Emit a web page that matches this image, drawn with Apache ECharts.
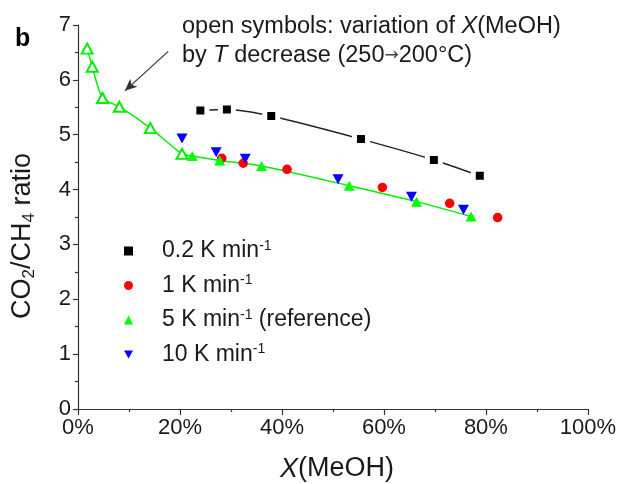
<!DOCTYPE html>
<html>
<head>
<meta charset="utf-8">
<script src="https://cdn.jsdelivr.net/npm/echarts@6/dist/echarts.min.js"></script>
<style>
  html, body { margin: 0; padding: 0; background: #fff; }
  #chart { width: 619px; height: 484px; }
</style>
</head>
<body>
<div id="chart"></div>
<script>
// Methanol conversion X(MeOH) in %, and the CO2/CH4 ratio measured at each heating rate
const rate02X = [24.0, 29.2, 37.9, 55.5, 69.8, 78.8];
const rate02Y = [5.44, 5.46, 5.34, 4.92, 4.54, 4.25];
const rate1X  = [28.2, 32.4, 41.0, 59.7, 72.9, 82.3];
const rate1Y  = [4.57, 4.48, 4.37, 4.04, 3.75, 3.49];
const rate5X  = [22.4, 27.8, 36.0, 53.2, 66.4, 77.1];
const rate5Y  = [4.61, 4.53, 4.43, 4.07, 3.78, 3.51];
const rate10X = [20.4, 27.1, 32.8, 51.0, 65.4, 75.6];
const rate10Y = [4.93, 4.68, 4.56, 4.19, 3.87, 3.63];
// open symbols: temperature lowered from 250 to 200 °C
const coolX = [1.8, 2.8, 4.8, 8.1, 14.2, 20.4];
const coolY = [6.57, 6.24, 5.67, 5.51, 5.12, 4.65];

// legend entries
const rates = ['0.2', '1', '5', '10'];
const notes = ['', '', ' (reference)', ''];

// axis ticks
const xTickStep = 20, xMin = 0, xMax = 100;
const yTickStep = 1, yMin = 0, yMax = 7;

const FONT = "'Liberation Sans', Arial, Helvetica, sans-serif";
const INK = '#1a1a1a';
const GREEN = '#00ee00';

const pairs = (xs, ys) => xs.map((x, i) => [x, ys[i]]);
const names = rates.map((r, i) => r + ' K min-1' + notes[i]);
const legendText = {};
names.forEach((n, i) => {
  legendText[n] = '{gap| }{t|' + rates[i] + ' K min}{sup|-1}' + (notes[i] ? '{t|' + notes[i] + '}' : '');
});

const downTri = 'path://M0,0L10,0L5,9Z';

const chart = echarts.init(document.getElementById('chart'), null, { renderer: 'canvas' });

chart.setOption({
  animation: false,
  backgroundColor: '#fff',
  grid: { left: 78, right: 30, top: 25, bottom: 75, containLabel: false },
  xAxis: {
    type: 'value', min: xMin, max: xMax, interval: xTickStep,
    axisLine: { show: true, onZero: false, lineStyle: { color: '#333', width: 1.2 } },
    axisTick: { show: true, inside: false, length: 6, lineStyle: { color: '#333', width: 1.2 } },
    minorTick: { show: true, splitNumber: 2, length: 3, lineStyle: { color: '#333', width: 1.2 } },
    splitLine: { show: false },
    axisLabel: { fontSize: 22, fontFamily: FONT, color: INK, margin: 8, formatter: '{value}%' }
  },
  yAxis: {
    type: 'value', min: yMin, max: yMax, interval: yTickStep,
    axisLine: { show: true, onZero: false, lineStyle: { color: '#333', width: 1.2 } },
    axisTick: { show: true, inside: false, length: 5, lineStyle: { color: '#333', width: 1.2 } },
    minorTick: { show: true, splitNumber: 2, length: 3, lineStyle: { color: '#333', width: 1.2 } },
    splitLine: { show: false },
    axisLabel: { fontSize: 22, fontFamily: FONT, color: INK, margin: 7 }
  },
  legend: {
    orient: 'vertical',
    left: 124, top: 239,
    padding: 0,
    itemWidth: 9, itemHeight: 9,
    itemGap: 10.5,
    selectedMode: false,
    data: [
      { name: names[0], icon: 'rect', itemStyle: { color: '#000', borderWidth: 0 } },
      { name: names[1], icon: 'circle' },
      { name: names[2], icon: 'triangle' },
      { name: names[3], icon: downTri }
    ],
    formatter: name => legendText[name],
    textStyle: {
      fontSize: 23, fontFamily: FONT, color: INK, lineHeight: 24,
      rich: {
        gap: { width: 24, fontSize: 23, lineHeight: 24 },
        t: { fontSize: 23, fontFamily: FONT, color: INK, lineHeight: 24 },
        sup: { fontSize: 14, fontFamily: FONT, color: INK, lineHeight: 14, verticalAlign: 'top' }
      }
    }
  },
  series: [
    {
      name: 'trend 0.2', type: 'line', smooth: 0.25, showSymbol: false, silent: true,
      data: pairs(rate02X, rate02Y),
      lineStyle: { color: '#222', width: 1.5 }, z: 1
    },
    {
      name: 'trend 5', type: 'line', smooth: 0.25, showSymbol: false, silent: true,
      data: pairs(coolX, coolY).concat(pairs(rate5X, rate5Y)),
      lineStyle: { color: GREEN, width: 1.5 }, z: 1
    },
    {
      name: names[1], type: 'scatter', symbol: 'circle', symbolSize: 9.5,
      data: pairs(rate1X, rate1Y),
      itemStyle: { color: '#ff0000', opacity: 1 }, z: 3
    },
    {
      name: 'cooling', type: 'scatter', symbol: 'emptyTriangle', symbolSize: [11, 10],
      data: pairs(coolX, coolY),
      itemStyle: { color: GREEN, borderColor: GREEN, borderWidth: 1.2, opacity: 1 }, z: 3,
      markLine: {
        silent: true,
        animation: false,
        symbol: ['none', 'arrow'],
        symbolSize: [8, 12],
        label: { show: false },
        lineStyle: { color: '#333', width: 1.2, type: 'solid' },
        data: [[{ coord: [17.7, 6.52] }, { coord: [9.2, 5.80] }]]
      }
    },
    {
      name: names[2], type: 'scatter', symbol: 'triangle', symbolSize: [11, 10],
      data: pairs(rate5X, rate5Y),
      itemStyle: { color: '#00ff00', opacity: 1 }, z: 4
    },
    {
      name: names[3], type: 'scatter', symbol: downTri, symbolSize: [11, 10],
      data: pairs(rate10X, rate10Y),
      itemStyle: { color: '#0000ff', opacity: 1 }, z: 5
    },
    {
      name: names[0], type: 'scatter', symbol: 'rect', symbolSize: 13,
      data: pairs(rate02X, rate02Y),
      itemStyle: { color: '#000', borderColor: '#fff', borderWidth: 5, opacity: 1 }, z: 5
    }
  ],
  graphic: [
    {
      type: 'text', left: 15, top: 27,
      style: { text: 'b', fontSize: 25, fontWeight: 'bold', fontFamily: FONT, fill: '#000' }
    },
    {
      type: 'text', x: 182, y: 15,
      style: {
        text: 'open symbols: variation of {i|X}(MeOH)',
        fontSize: 23.5, fontFamily: FONT, fill: INK, verticalAlign: 'top', lineHeight: 23,
        rich: { i: { fontSize: 23.5, fontStyle: 'italic', fontFamily: FONT, fill: INK, lineHeight: 23 } }
      }
    },
    {
      type: 'text', x: 182, y: 44,
      style: {
        text: 'by {i|T} decrease (250{ar|→}200°C)',
        fontSize: 23.5, fontFamily: FONT, fill: INK, verticalAlign: 'top', lineHeight: 23,
        rich: {
          i: { fontSize: 23.5, fontStyle: 'italic', fontFamily: FONT, fill: INK, lineHeight: 23 },
          ar: { fontSize: 17, fontFamily: "'DejaVu Sans', sans-serif", fill: '#444', lineHeight: 23 }
        }
      }
    },
    {
      type: 'text', x: 337, y: 469,
      style: {
        text: '{i|X}(MeOH)',
        fontSize: 27, fontFamily: FONT, fill: INK, align: 'center', verticalAlign: 'middle', lineHeight: 28,
        rich: { i: { fontSize: 27, fontStyle: 'italic', fontFamily: FONT, fill: INK, lineHeight: 28 } }
      }
    },
    {
      type: 'text', x: 23, y: 236, rotation: Math.PI / 2,
      style: {
        text: 'CO{s|2}/CH{s|4} ratio',
        fontSize: 27, fontFamily: FONT, fill: INK, align: 'center', verticalAlign: 'middle', lineHeight: 30,
        rich: { s: { fontSize: 17, fontFamily: FONT, fill: INK, lineHeight: 17, verticalAlign: 'bottom' } }
      }
    }
  ]
});
</script>
</body>
</html>
